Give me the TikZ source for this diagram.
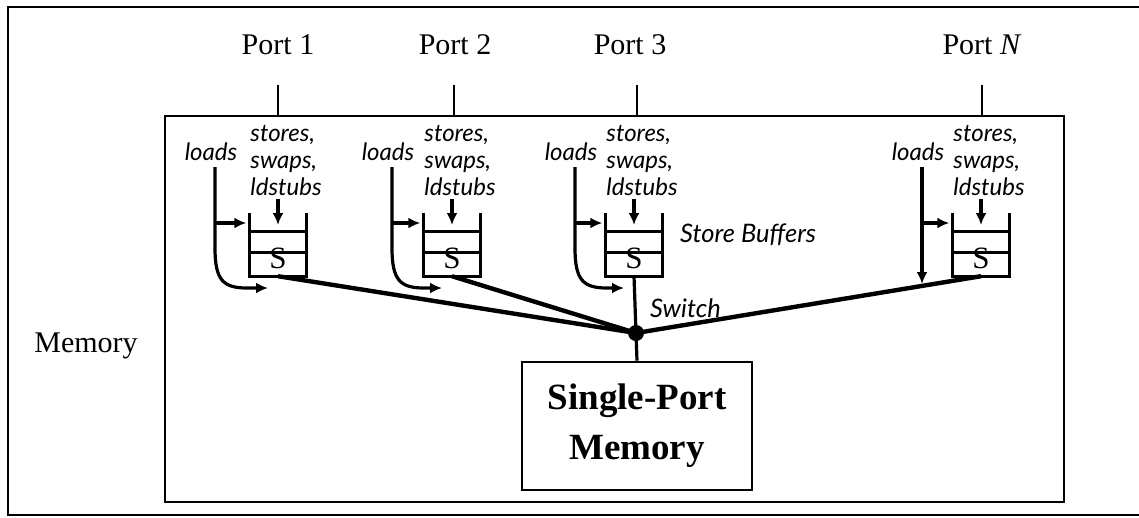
\documentclass[tikz,border=0pt]{standalone}
\usepackage{fontspec}
\setmainfont{Liberation Serif}
\newfontfamily\labfont{Lato}
\usetikzlibrary{arrows.meta}
\begin{document}
\begin{tikzpicture}[x=1pt,y=-1pt,
  frame/.style={line width=2.6pt},
  tick/.style={line width=2.4pt},
  buf/.style={line width=3.2pt},
  feed/.style={line width=3.2pt,-{Latex[length=12pt,width=11pt]}},
  sw/.style={line width=4.4pt},
  porttxt/.style={font=\fontsize{30}{32}\selectfont, inner sep=0pt},
  lab/.style={font=\labfont\itshape\fontsize{24}{27}\selectfont, inner sep=0pt},
  biglab/.style={font=\labfont\itshape\fontsize{25.5}{27}\selectfont, inner sep=0pt},
  bufbox/.style={minimum width=57pt, minimum height=63pt, inner sep=0pt},
  stxt/.style={font=\fontsize{31}{32}\selectfont, inner sep=0pt},
]
\useasboundingbox (0,0) rectangle (1139,517);
% outer frame
\draw[frame] (1145,7) -- (8,7) -- (8,515) -- (1145,515);
% inner memory box
\node[draw, frame, minimum width=899pt, minimum height=386pt, inner sep=0pt] (membox) at (614.5,309) {};
\node[porttxt] (memlbl) at (86,346) {Memory};

% ports
\node[porttxt] (port1) at (278,45) {Port 1};
\node[porttxt] (port2) at (455,45) {Port 2};
\node[porttxt] (port3) at (630,45) {Port 3};
\node[porttxt] (portN) at (982,45) {Port \textit{N}};
\foreach \x/\n in {278/1,454/2,637/3,982/N}{
  \coordinate (t\n) at (\x,85);
  \draw[tick] (t\n) -- (t\n |- membox.north);
}

% buffers
\foreach \c/\n/\lx/\cur in {278/1/215/1,452/2/392/1,634/3/575/1,981/N/922/0}{
  \node[bufbox] (b\n) at (\c,244.5) {};
  \draw[buf] (b\n.north west) -- (b\n.south west) -- (b\n.south east) -- (b\n.north east);
  \draw[buf] ([yshift=-19pt]b\n.north west) -- ([yshift=-19pt]b\n.north east);
  \draw[buf] ([yshift=-40pt]b\n.north west) -- ([yshift=-40pt]b\n.north east);
  \node[stxt] (s\n) at (\c,258) {S};
  \node[lab, align=left] (st\n) at (\c+8,161) {stores,\\swaps,\\ldstubs};
  \node[lab] (ld\n) at (\lx-4,152) {loads};
  \coordinate (da\n) at (\c,199);
  \draw[feed] (da\n) -- (\c,225);
  \coordinate (lt\n) at (\lx,167);
  \coordinate (lb\n) at (\lx,223);
  \draw[feed] (lb\n) -- ([xshift=-3pt]b\n.west |- lb\n);
  \ifnum\cur=1
    \draw[feed] (lt\n) -- (\lx,248) .. controls (\lx,280) and (\lx+8,288) .. (\lx+32,288) -- (\c-10,288);
  \else
    \draw[feed] (lt\n) -- (\lx,284);
  \fi
}

% switch
\node[circle, fill, inner sep=0pt, minimum size=16pt] (dot) at (636,333) {};
\draw[sw] (b1.south) -- (dot.center);
\draw[sw] (b2.south) -- (dot.center);
\draw[sw] (bN.south) -- (dot.center);
\draw[buf] (b3.south) -- (dot.center);

\node[biglab, anchor=west] (sblbl) at (680,235) {Store Buffers};
\node[biglab, anchor=west] (swlbl) at (650,308) {Switch};

% single-port memory
\node[draw, frame, minimum width=230pt, minimum height=128pt, inner sep=0pt,
      align=center, font=\bfseries\fontsize{37}{50}\selectfont] (mem) at (637,426) {Single-Port\\Memory};
\draw[buf] (dot.center) -- (mem.north);
\end{tikzpicture}
\end{document}
